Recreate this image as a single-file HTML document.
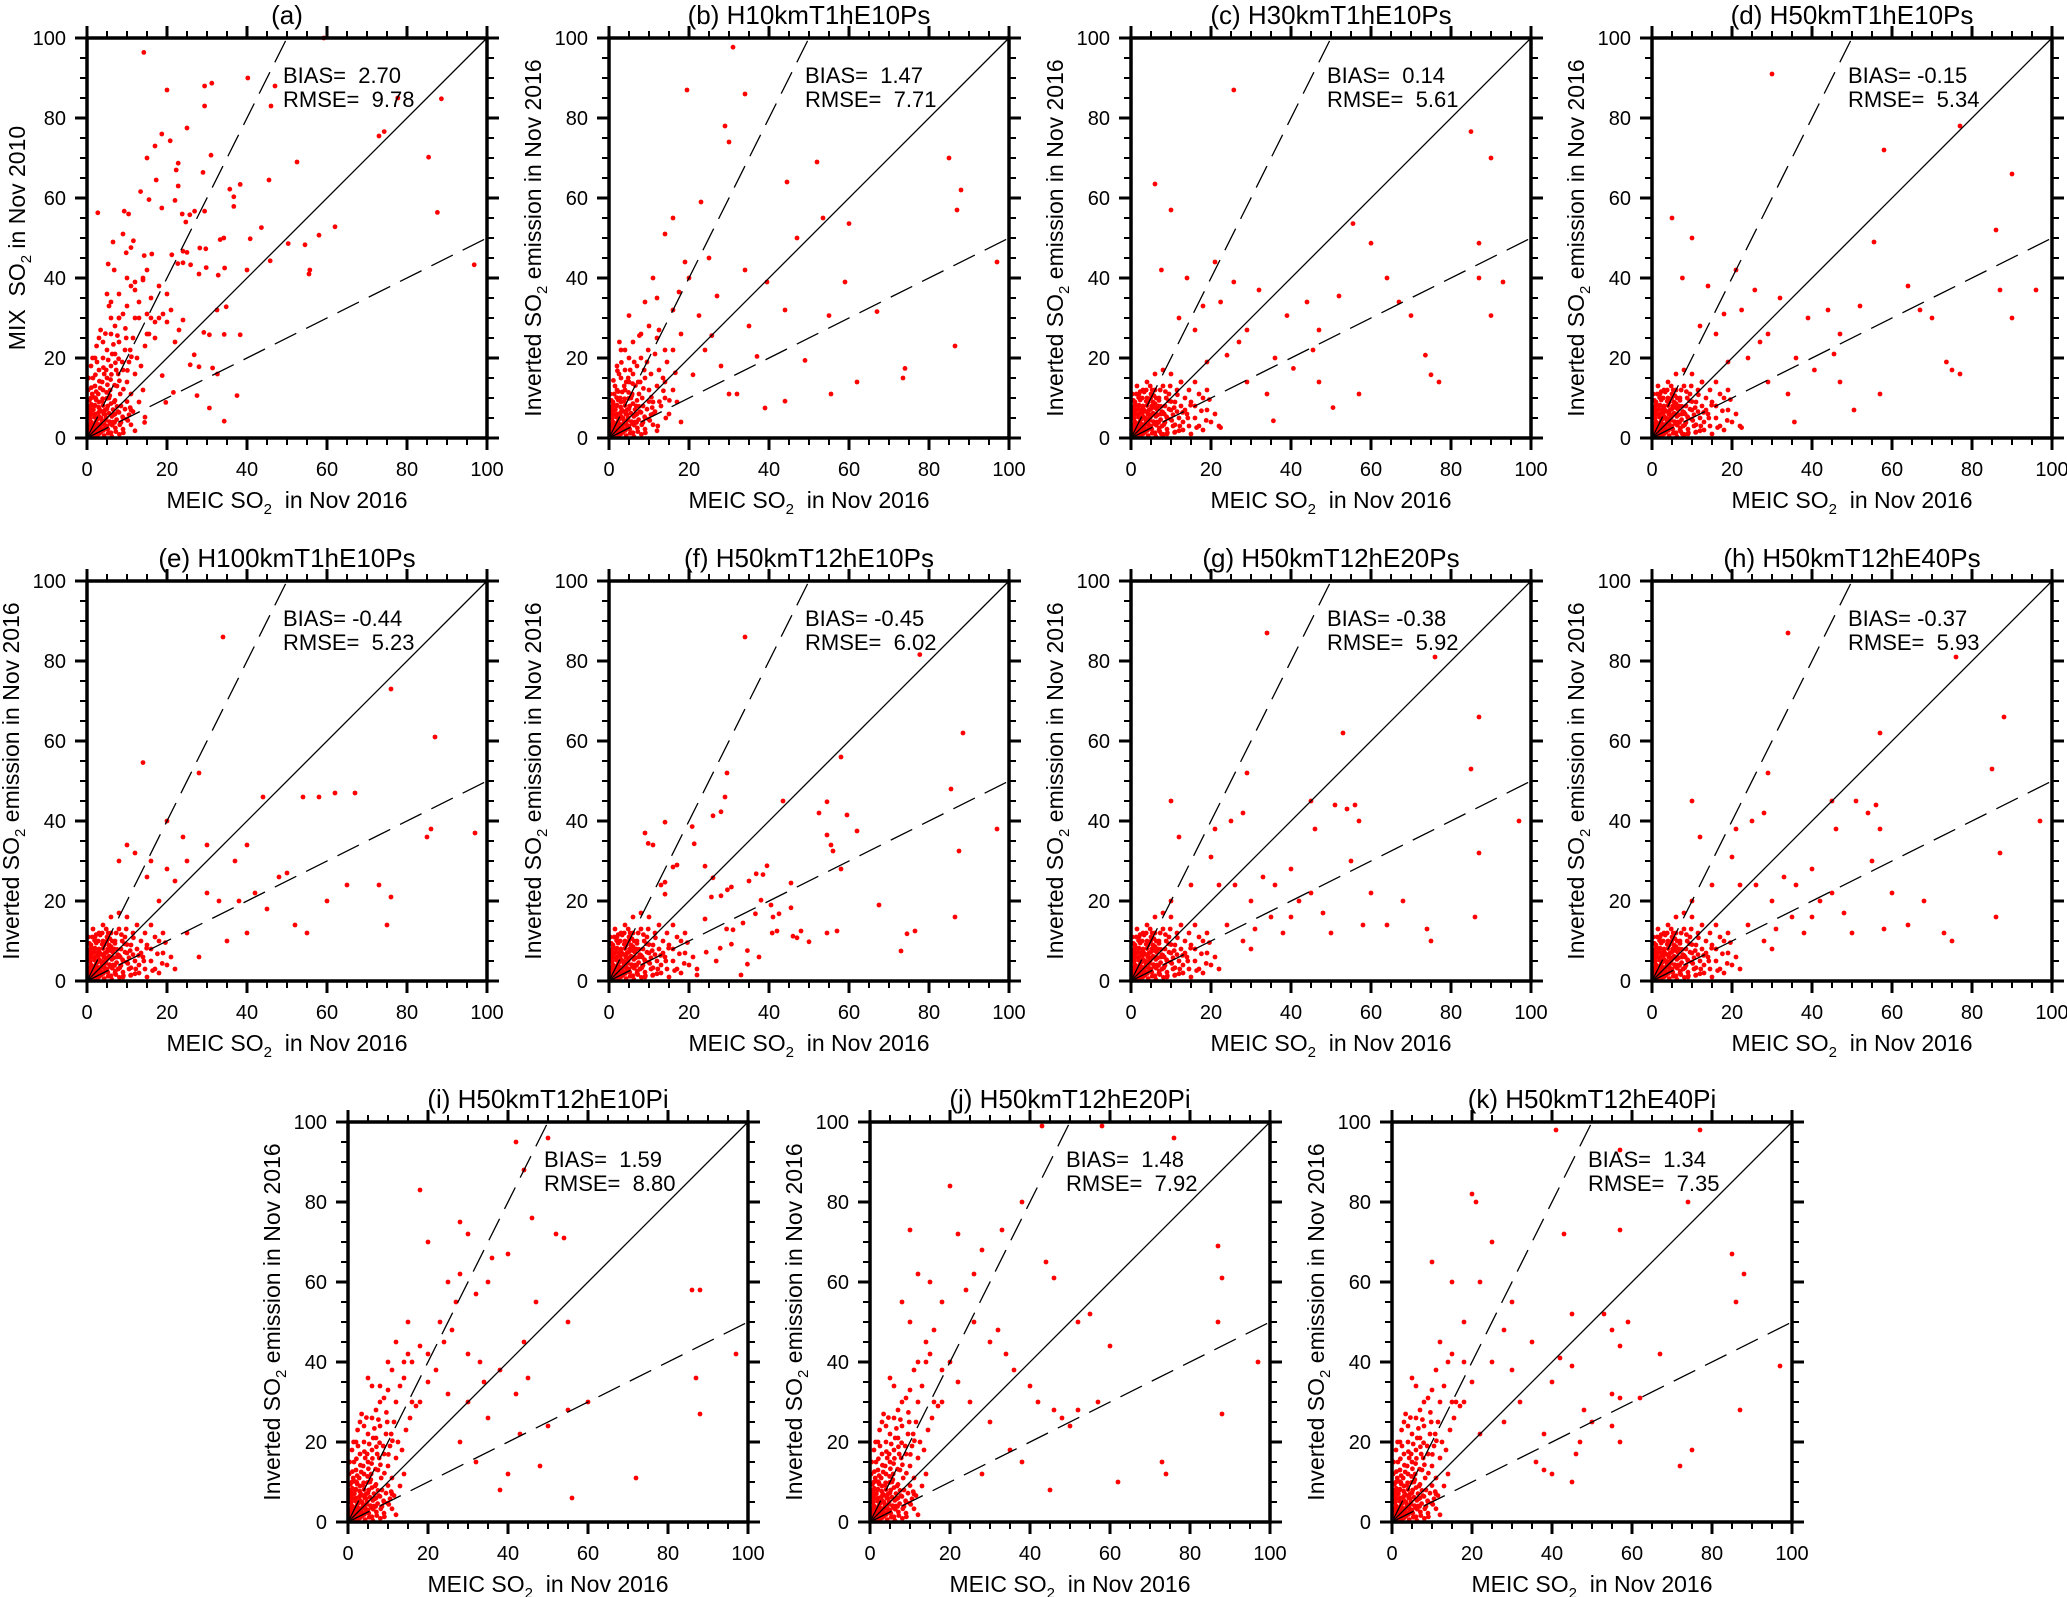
<!DOCTYPE html>
<html><head><meta charset="utf-8"><style>
html,body{margin:0;padding:0;background:#fff}
svg{display:block}
text{font-family:"Liberation Sans",Arial,sans-serif;fill:#000;white-space:pre}
</style></head><body>
<svg id="fig" width="2067" height="1597" viewBox="0 0 2067 1597" xmlns="http://www.w3.org/2000/svg"></svg>
<script>
const tickValues=[0,20,40,60,80,100];
const tickLabels=["0","20","40","60","80","100"];
const coreDense=[0.3,0.5,0.7,1.2,1.1,0.4,1.4,2.8,1.8,1.6,2.1,0.8,2.4,2.3,2.7,3.4,3.1,1.1,3.4,2.6,3.7,4.4,4.1,1.9,4.4,3.3,4.8,5.1,5.2,2.2,5.6,4.1,6,1.3,6.3,3.2,6.7,5.8,7.1,2.5,7.4,4.6,0.4,3.2,0.8,4.9,1.2,5.9,1.6,7.1,2,8.2,0.6,9.4,1.3,11,2.2,9.9,0.2,2.2,0.5,1.4,1,2.1,1.5,3.5,2,2.6,2.5,4.6,3,5.4,3.5,6.7,4,8.1,4.5,5.9,5,7.3,5.5,6.2,6,8.6,6.5,7.1,7,9.4,7.5,7.9,8,6.4,8.5,3.9,9,2.2,9.5,7.2,10,9.1,10.5,5.8,11,3.3,11.5,6.6,12,1.8,0.9,0.3,1.7,0.9,2.6,0.7,3.5,1.5,4.3,0.6,5.3,1.2,6.2,0.4,7.2,1.6,8.1,0.9,9.1,1.3,2.9,7.7,3.8,9.2,1.1,8.4,0.3,6.8,4.9,9.9,5.7,10.6,2.3,11.6,3.3,3.1,4.6,4.4,5.9,3.6,6.9,3.9,7.7,6.6,8.9,5.3,9.9,4.7,10.8,7.6,1.9,10.1,0.7,7.8];
const coreA=[0.5,2,1,4,1.5,1,2,6,2.5,3,3,9,3.5,5,4,12,4.5,7,5,15,5.5,10,6,18,6.5,4,7,21,7.5,13,8,24,8.5,8,9,17,9.5,22,10,14,10.5,19,11,11,11.5,25,12,16,1,10,2,13,3,17,4,20,1.5,15,2.5,19,0.5,8,3,2,5,3,7,6,9,5,11,7,13,9,14,12,4,24,5,22,6,26,7,28,8,30,9,31,10,33,6,34,5,36,3,25,2,20,1,18,0.3,12,0.2,5,0.8,6,1.8,8,2.8,11,3.8,14,4.8,17,5.8,12,6.8,9,7.8,16,8.8,19,9.8,25,10.8,22,12.5,20,13.5,18,14.5,23,15.5,26,16,30,12,30,13,34,11,38,14,40,15,42,17,29,18,30,1.2,3,2.2,4,3.2,7,4.2,6,5.2,8,0.6,0.6,1.6,2.2,2.6,1.4,3.6,3.6,4.6,2.6,6.2,5.4,8.2,3.3,10.2,4.4,1.3,7,2.3,9.5,3.3,12.5,4.3,16,5.3,19.5,6.3,21,7.3,17,8.3,11,0.4,15,1.4,20,2.4,23,3.4,27,0.9,2.8,1.9,5.2,2.9,6.4,3.9,9.8,4.9,11.4,5.9,14.6,6.9,13.2,7.9,19.8,1.1,12.6,2.1,15.8,3.1,14.2,4.1,17.6,5.1,13.3,6.1,15.9,7.1,18.8,8.1,14.3,9.1,12.2,10.1,16.9,11.1,20.3,6.6,23.4,4.6,26.1,7.6,25.6,9.6,27.4];
const coreB=[0.5,2,1,4,1.5,1,2,6,2.5,3,3,9,3.5,5,4,12,4.5,7,5,14,5.5,10,6,16,6.5,4,7,18,7.5,11,8,20,8.5,8,9,15,9.5,19,10,12,10.5,16,11,9,11.5,21,12,13,1,9,2,12,3,15,4,17,1.5,13,2.5,16,0.5,7,3,2,5,3,7,6,9,5,11,6,13,8,14,10,15,6,16,12,17,9,18,4,4,22,5,20,6,24,8,26,10,28,3,22,2,18,0.3,11,0.2,5,0.8,6,1.8,8,2.8,10,3.8,13,4.8,15,5.8,11,6.8,8,7.8,14,8.8,17,9.8,22,12.5,17,13.5,15,14.5,19,16,22,12,25,1.2,3,2.2,4,3.2,7,4.2,6,5.2,8,0.6,0.6,1.6,2.2,2.6,1.4,3.6,3.6,4.6,2.6,6.2,5.4,8.2,3.3,10.2,4.4,12.2,3,14.2,5,1.3,7,2.3,9.5,3.3,11.5,4.3,14,5.3,17,6.3,19,7.3,14,8.3,10,0.9,2.8,1.9,5.2,2.9,6.4,3.9,9.8,4.9,11.4,5.9,13.6,1.1,14.4,2.1,16.8,3.1,18.9,6.6,13.1,8.6,12.4,10.6,10.2,12.6,9.1,13.6,11.8,15.1,9.4,16.6,16.3];
const coreC=[0.5,2,1,4,1.5,1,2,6,2.5,3,3,8,3.5,5,4,10,4.5,7,5,11,5.5,9,6,12,6.5,4,7,10,7.5,6,8,13,8.5,8,9,5,9.5,11,10,7,10.5,3,11,9,11.5,12,12,5,12.5,8,13,2,13.5,10,14,6,14.5,3,15,9,16,5,17,11,18,2,19,7,20,4,1,9,2,11,3,12,4,14,1.5,13,2.5,7,0.5,7,3,2,5,3,7,2,9,1,11,1.5,13,4,15,1,16,8,17,3,18,10,0.3,11,0.2,5,0.8,6,1.8,8,2.8,10,3.8,12,4.8,13,5.8,6,6.8,8,7.8,3,8.8,10,9.8,13,12.5,14,13.5,7,14.5,12,6,16,8,17,10,16,1.2,3,2.2,4,3.2,7,4.2,6,5.2,8,0.6,0.6,1.6,2.2,2.6,1.4,3.6,3.6,4.6,2.6,6.2,5.4,8.2,3.3,10.2,4.4,12.2,3,14.2,5,1.3,7,2.3,9.5,3.3,11.5,4.3,9,5.3,12,6.3,10,7.3,12,8.3,6,0.9,2.8,1.9,5.2,2.9,6.4,3.9,4.8,4.9,5.4,5.9,7.6,21,6,22,3,19,12,16,14,11.6,10.8,12.9,6.4,14.9,8.2,16.4,2.6,17.6,6.8,18.8,4.4,19.6,9.6,10.9,1.4,9.4,9.3,8.6,11.6];
const pointsA=[14.2,96.4,20,87,29.4,88,31.2,88.7,29.4,83,40.2,90,47,88,46,83,25,77.5,18.7,76,20.8,74.3,17,73,15,70,31,70.7,22.8,68.7,22.3,67,29,66.4,17.3,64.5,45.5,64.5,52.5,69,13.4,61.6,22.8,63,35.7,62.2,38.3,63.4,36.7,60.3,36.7,57.9,15.5,59.6,22,59.4,18.7,57.5,2.7,56.3,9.3,56.7,10.4,56,29.4,56.7,26.9,56.7,25.7,55.8,23.8,56,24.7,54,6.5,49,9,51,11.6,49.3,9.8,46.3,11,47.6,5.3,43.5,6.8,42,14.3,45.6,16.2,46,24,46.7,25,46.4,28.2,47.5,29.7,47.3,33.3,49.6,34.2,50,43.6,52.6,40.8,49.8,50.3,48.6,54.5,48.3,58,50.7,62,52.8,55.7,42,55.5,41,40,42,45.8,44.3,29.8,42.6,34.4,42.5,32.8,40.7,22.7,43.6,24,43.8,25.9,43.3,21.2,45.8,28,41,73,75.5,74.3,76.6,77.7,85,88.6,84.8,85.4,70.2,87.6,56.4,96.8,43.3,59.2,100,34.8,32.8,32.5,32,38.3,25.8,34.3,25.9,29.2,26.4,30.6,25.8,26.8,20.8,28,17.8,25.8,18.3,31.4,17.5,32.6,16,37.5,10.6,27.5,10.6,30.6,7.5,34.3,4.2,21.6,11.4,19.7,8.9,18.8,15.6,14.4,3.9,14.5,5.2,12,39,14,39.5,16,35,18,38,20,36,21,32,19,31,15,31,13,30,17,25,15,26,20,29,23,27,24,29.5,22,24,12,37,10,40,8,36,8,30,5.5,33,6,30];
const pointsB=[29,78,19.5,87,31,97.7,34,86,30,74,44.5,64,52,69,53.5,55,60,53.6,85,70,88,62,87,57,97,44,86.5,23,74,17.4,73.5,15,67,31.6,47,50,16,55,23,59,14,51,11,40,19,44,25,45,34,42,39.5,39,44,32,55,30.6,59,39,49,19.4,37,20.4,28,18,21,15.8,32,11,39,7.5,12.5,27,9,34,22.5,30.6,27,35.5,17.5,36.5,2.6,24,5,30.6,7.6,25.6,14,22,25.7,25.6,30,11,44,9.2,14,14,55.5,11,62,14,20,40,16,32,12,35,24,22,18,26,35,28];
const pointsC=[25.7,87,6,63.5,10,57,14,40,7.6,42,21,44,25.7,39,22.4,34,32,37,39,30.6,47,27,52,35.5,55.5,53.6,60,48.7,85,76.6,90,70,87,48.7,87,40,93,39,73.6,20.7,75,15.8,77,14,90,30.6,70,30.6,64,40,67,34,45.5,22,40.6,17.4,34,11,29,14,24,20.7,16,27,19,19,12.5,14,29,27,47,14,57,11,50.5,7.6,35.6,4.3,22.4,2.6,7.6,1,44,34,18,33,12,30,27,24,36,20];
const pointsD=[30,91,5,55,10,50,14,38,7.6,40,21,42,25.7,37,22.4,32,32,35,39,30,47,26,52,33,55.5,49,58,72,77,78,90,66,86,52,87,37,96,37,73.6,19,75,17,77,16,90,30,70,30,64,38,67,32,45.5,21,40.6,17,34,11,29,14,24,20,16,26,19,19,12.5,14,29,26,47,14,57,11,50.5,7,35.6,4,22.4,2.6,7.6,1,44,32,18,31,12,28,27,24,36,20];
const pointsE=[34,86,14,54.6,28,52,44,46,54,46,58,46,62,47,67,47,76,73,87,61,86,38,85,36,97,37,75,14,76,21,73,24,48,26,50,27,40,34,37,30,30,34,20,40,24,36,25,30,10,34,12,32,16,30,20,28,22,25,30,22,33,20,38,20,42,22,45,18,52,14,18,20,15,26,8,30,35,10,25,12,28,6,40,12,55,12,60,20,65,24];
const pointsF=[34,86,58,56,29.5,52,29,46,43.5,45,54.5,44.8,52.5,42,59.5,41.5,62,37.5,54.5,36.5,55.5,34,56,32.5,58,28,14,39.7,9,37,9.8,34.4,11,34,20.8,38.6,21.3,34.3,26,41.3,28,42.3,77.7,81.6,88.5,62,85.5,48,97,38,87.5,32.5,86.5,16,67.5,19,73,7.5,74.5,11.8,76.5,12.5,45.5,18.3,45.5,24.5,40.5,19,40.8,12,42,12.5,42.5,16.8,41,16,39.5,28.8,35,25,36.8,26.8,38.5,26.6,38,20.2,36.6,16.8,37.5,6,33,1.5,33.5,14.5,34.6,7.6,34.6,4.2,29.4,13,31,12.8,30.6,23.5,29.6,22.8,28,21.3,25.6,21,26,25.8,24,28.7,24,15.5,17,29,16,28.5,14,24.7,13,24,14,21.7,48,12.5,50,9.8,47,10.8,46,11.2,54.5,12,57,12.5,30.6,9.2,27.8,8.2,26.8,5,24.3,7.2,22,1.5];
const pointsG=[34,87,53,62,51,44,46,38,54,43,56,44,57,40,76,81,87,66,85,53,86,16,87,32,97,40,75,10,74,13,68,20,60,22,45,45,40,16,30,20,26,24,22,24,20,31,10,45,12,36,15,24,10,20,35,16,38,12,28,10,30,8,50,12,58,14,64,14,29,52,28,42,21,38,25,40,33,26,36,24,42,20,45,22,48,17,40,28,55,30,31,13,24,14];
const pointsH=[34,87,57,62,51,45,46,38,54,42,56,44,57,38,76,81,88,66,85,53,86,16,87,32,97,40,75,10,73,12,68,20,60,22,45,45,40,16,30,20,26,24,22,24,20,31,10,45,12,36,15,24,10,20,35,16,38,12,28,10,30,8,50,12,58,13,64,14,29,52,28,42,21,38,25,40,33,26,36,24,42,20,45,22,48,17,40,28,55,30,31,13,24,14];
const pointsI=[42,95,44,88,50,96,46,76,52,72,54,71,28,75,30,72,18,83,20,70,25,60,28,62,32,57,35,60,36,66,40,67,23,50,26,48,20,42,30,42,33,40,38,38,45,36,44,45,55,28,56,6,50,24,43,22,40,12,48,14,72,11,86,58,88,58,87,36,88,27,97,42,47,55,55,50,15,50,12,45,10,40,25,32,20,35,30,30,35,26,28,20,32,15,38,8,42,32,60,30,16,40,18,44,22,38,14,36,8,34,24,45,27,55,34,35];
const pointsJ=[43,99,58,99,20,84,10,73,22,72,28,68,33,73,38,80,44,65,46,61,52,50,55,52,60,44,12,62,15,60,18,55,24,58,26,50,30,45,34,42,36,38,40,34,42,30,46,28,48,26,25,30,20,40,14,45,10,50,8,55,30,25,35,18,38,15,50,24,52,28,57,30,73,15,74,12,76,96,87,69,88,61,87,50,88,27,97,40,62,10,45,8,28,12,22,35,18,38,12,40,16,48,26,62,32,48];
const pointsK=[41,98,77,98,57,93,74,80,43,72,57,73,85,67,88,62,86,55,45,52,53,52,59,50,55,48,57,44,67,42,42,41,45,39,40,35,97,39,55,32,57,31,62,31,48,28,50,25,55,24,87,28,47,20,57,20,75,18,72,14,46,17,40,12,38,13,45,10,36,15,20,82,21,80,25,70,22,60,15,60,10,65,30,55,18,50,28,48,35,45,12,45,25,40,30,38,20,35,15,30,32,30,28,25,22,22,38,22,18,40];

const NS="http://www.w3.org/2000/svg";
const svg=document.getElementById('fig');
function mk(tag,attrs,parent){const e=document.createElementNS(NS,tag);for(const k in attrs)e.setAttribute(k,attrs[k]);(parent||svg).appendChild(e);return e;}

function so2Label(parent,x,y,pre,post,rot,name){
  const t=mk('text',{x:x,y:y,'font-size':23,'text-anchor':'middle'},parent);
  if(rot)t.setAttribute('transform','rotate(-90 '+x+' '+y+')');
  
  
  const a=mk('tspan',{},t);a.textContent=pre+'SO';
  const b=mk('tspan',{dy:6,'font-size':15},t);b.textContent='2';
  const c=mk('tspan',{dy:-6},t);c.textContent=post;
  return t;
}

function panel(id,L,T,title,ylabType,bias,rmse,core,pts){
  const S=400;
  const sx=v=>L+v/100*S, sy=v=>T+S-v/100*S;
  const g=mk('g',{});
  
  
  const pg=mk('g',{fill:'#ff0000'},g);
  
  
  const all=coreDense.concat(core,pts);
  for(let i=0;i+1<all.length;i+=2){
    const c=mk('circle',{cx:sx(all[i]).toFixed(1),cy:sy(all[i+1]).toFixed(1),r:2.4},pg);
    
    
  }
  const l1=mk('line',{x1:sx(0),y1:sy(0),x2:sx(100),y2:sy(100),stroke:'#000','stroke-width':1.3},g);
  
  
  const l2=mk('line',{x1:sx(0),y1:sy(0),x2:sx(50),y2:sy(100),stroke:'#000','stroke-width':1.3,'stroke-dasharray':'24 11'},g);
  
  
  const l3=mk('line',{x1:sx(0),y1:sy(0),x2:sx(100),y2:sy(50),stroke:'#000','stroke-width':1.3,'stroke-dasharray':'24 11'},g);
  
  
  const tg=mk('g',{stroke:'#000'},g);
  
  
  for(let v=0;v<=100;v+=5){
    const major=v%20===0, len=major?12:7, w=major?3:2;
    const x=sx(v), y=sy(v);
    mk('line',{x1:x,y1:T+S,x2:x,y2:T+S+len,'stroke-width':w},tg);
    mk('line',{x1:x,y1:T,x2:x,y2:T-len,'stroke-width':w},tg);
    mk('line',{x1:L,y1:y,x2:L-len,y2:y,'stroke-width':w},tg);
    mk('line',{x1:L+S,y1:y,x2:L+S+len,y2:y,'stroke-width':w},tg);
  }
  const fr=mk('rect',{x:L,y:T,width:S,height:S,fill:'none',stroke:'#000','stroke-width':3.5},g);
  
  
  tickValues.forEach((v,i)=>{
    const xt=mk('text',{x:sx(v),y:T+S+38,'font-size':20,'text-anchor':'middle'},g);
    xt.textContent=tickLabels[i];
    
    
    const yt=mk('text',{x:L-21,y:sy(v)+7,'font-size':20,'text-anchor':'end'},g);
    yt.textContent=tickLabels[i];
    
    
  });
  const tt=mk('text',{x:L+S/2,y:T-14,'font-size':26,'text-anchor':'middle'},g);
  tt.textContent=title;
  
  
  so2Label(g,L+S/2,T+S+70,'MEIC ','  in Nov 2016',false,'x-axis-title');
  if(ylabType==='mix') so2Label(g,L-62,T+S/2,'MIX  ',' in Nov 2010',true,'y-axis-title');
  else so2Label(g,L-68,T+S/2,'Inverted ',' emission in Nov 2016',true,'y-axis-title');
  const b=mk('text',{x:L+196,y:T+45,'font-size':22},g);
  b.textContent='BIAS= '+bias;
  
  
  const r=mk('text',{x:L+196,y:T+69,'font-size':22},g);
  r.textContent='RMSE=  '+rmse;
  
  
}
const X=[87,609,1131,1652], Y=[38,581,1122], X3=[348,870,1392];
panel('a',X[0],Y[0],'(a)','mix',' 2.70','9.78',coreA,pointsA);
panel('b',X[1],Y[0],'(b) H10kmT1hE10Ps','inv',' 1.47','7.71',coreB,pointsB);
panel('c',X[2],Y[0],'(c) H30kmT1hE10Ps','inv',' 0.14','5.61',coreC,pointsC);
panel('d',X[3],Y[0],'(d) H50kmT1hE10Ps','inv','-0.15','5.34',coreC,pointsD);
panel('e',X[0],Y[1],'(e) H100kmT1hE10Ps','inv','-0.44','5.23',coreC,pointsE);
panel('f',X[1],Y[1],'(f) H50kmT12hE10Ps','inv','-0.45','6.02',coreC,pointsF);
panel('g',X[2],Y[1],'(g) H50kmT12hE20Ps','inv','-0.38','5.92',coreC,pointsG);
panel('h',X[3],Y[1],'(h) H50kmT12hE40Ps','inv','-0.37','5.93',coreC,pointsH);
panel('i',X3[0],Y[2],'(i) H50kmT12hE10Pi','inv',' 1.59','8.80',coreA,pointsI);
panel('j',X3[1],Y[2],'(j) H50kmT12hE20Pi','inv',' 1.48','7.92',coreA,pointsJ);
panel('k',X3[2],Y[2],'(k) H50kmT12hE40Pi','inv',' 1.34','7.35',coreA,pointsK);
</script>
</body></html>
